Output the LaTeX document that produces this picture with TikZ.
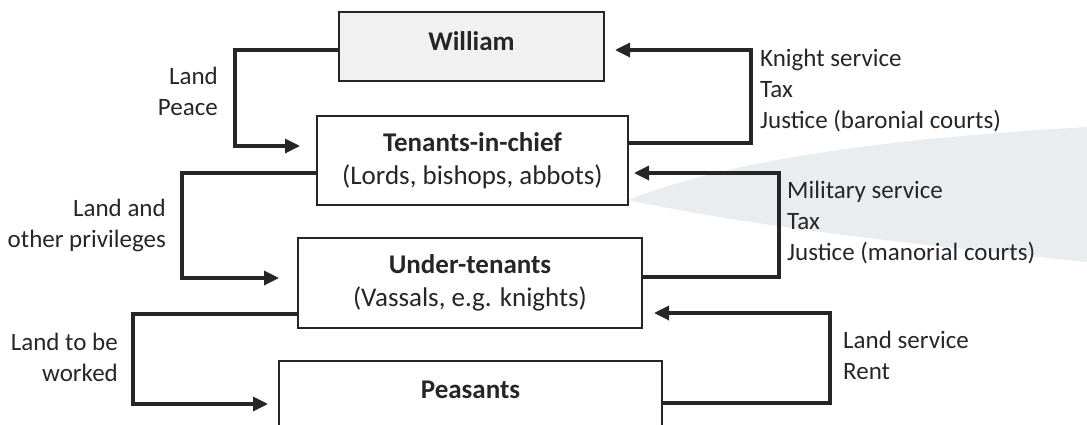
\documentclass[tikz,border=0pt]{standalone}
\usepackage{fontspec}
\setmainfont{Carlito}
\usetikzlibrary{arrows.meta}
\definecolor{ink}{HTML}{262626}
\definecolor{swoosh}{HTML}{E9EDF0}
\definecolor{wfill}{HTML}{F1F1F1}
\tikzset{
  box/.style={draw=ink, line width=2.5pt, rectangle, inner sep=0pt, align=center,
              font=\fontsize{27}{33}\selectfont, text=ink},
  conn/.style={draw=ink, line width=3.3pt, -{Triangle[length=15pt,width=14pt]}},
  lbl/.style={font=\fontsize{25}{31}\selectfont, text=ink, inner sep=0pt},
  lblr/.style={lbl, align=right, anchor=east},
  lbll/.style={lbl, align=left, anchor=west}
}
\begin{document}
\begin{tikzpicture}[x=1pt,y=-1pt]
\useasboundingbox (0,0) rectangle (1087,424);
\clip (0,0) rectangle (1087,424);
% background swoosh
\fill[swoosh] (628,200) .. controls (700,172) and (820,142) .. (1087,127)
  -- (1087,262) .. controls (930,246) and (760,228) .. (628,200) -- cycle;
% boxes
\node[box, fill=wfill, minimum width=265pt, minimum height=69pt, text height=20pt, text depth=12.6pt]
  (W) at (471.5,46.5) {\bfseries William};
\node[box, fill=white, minimum width=311pt, minimum height=89pt]
  (T) at (472.5,160.5) {\bfseries Tenants-in-chief\\(Lords, bishops, abbots)};
\node[box, fill=white, minimum width=344pt, minimum height=90pt]
  (U) at (470,283) {\bfseries Under-tenants\\(Vassals, e.g. knights)};
\node[box, fill=white, minimum width=383pt, minimum height=79pt, text height=20pt, text depth=24.6pt]
  (P) at (470.5,400.5) {\bfseries Peasants};
% arrow tips
\coordinate (a1) at (300,146);
\coordinate (a2) at (615,50);
\coordinate (a3) at (279,278);
\coordinate (a4) at (634,173);
\coordinate (a5) at (268,404);
\coordinate (a6) at (654,313);
% connectors
\draw[conn] (W.west |- 0,50) -- (235,50) -- (235,146) -- (a1);
\draw[conn] (T.east |- 0,143) -- (751,143) -- (751,50) -- (a2);
\draw[conn] (T.west |- 0,173) -- (182,173) -- (182,278) -- (a3);
\draw[conn] (U.east |- 0,277) -- (779,277) -- (779,173) -- (a4);
\draw[conn] (U.west |- 0,314) -- (133,314) -- (133,404) -- (a5);
\draw[conn] (P.east |- 0,403) -- (830,403) -- (830,313) -- (a6);
% labels
\node[lblr] (l1) at (218,91.5) {Land\\Peace};
\node[lbll] (l2) at (760,90.5) {Knight service\\Tax\\Justice (baronial courts)};
\node[lblr] (l3) at (166,225) {Land and\\other privileges};
\node[lbll] (l4) at (787,222.5) {Military service\\Tax\\Justice (manorial courts)};
\node[lblr] (l5) at (118,357) {Land to be\\worked};
\node[lbll] (l6) at (843,355) {Land service\\Rent};
\end{tikzpicture}
\end{document}
